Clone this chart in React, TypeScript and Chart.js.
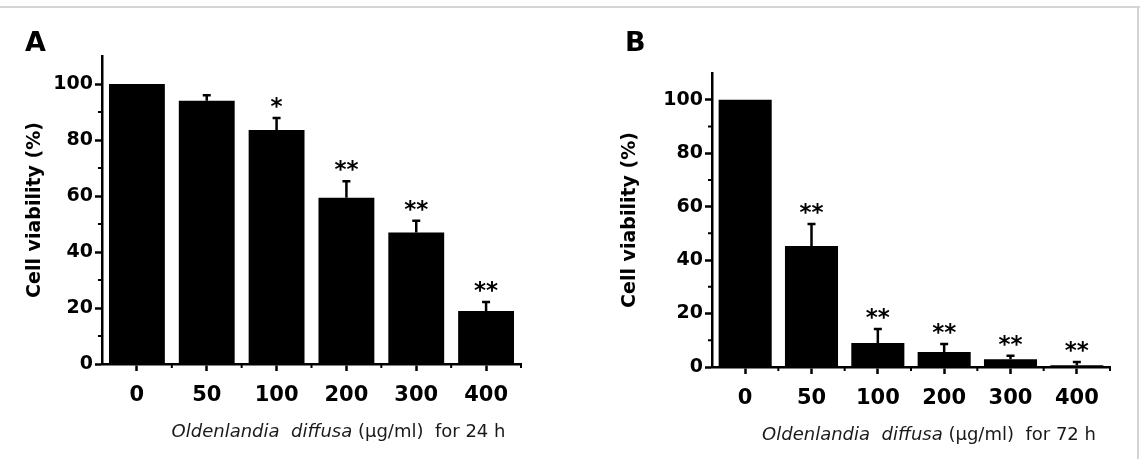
import React, { useEffect, useRef } from 'react';
import { Chart, registerables } from 'chart.js';

Chart.register(...registerables);

// ---------- data ----------
const categories = ['0', '50', '100', '200', '300', '400'];
const yTickValues = [0, 20, 40, 60, 80, 100];
const yMinorValues = [10, 30, 50, 70, 90];
const yMax = 110;

const viability24h = [100, 94, 83.6, 59.4, 47, 18.9];
const sem24h = [0, 2, 4.3, 5.9, 4.2, 3.2];
const stars24h = ['', '', '*', '**', '**', '**'];

const viability72h = [100, 45.3, 9, 5.6, 2.9, 0.7];
const sem72h = [0, 8.2, 5.2, 3.0, 1.3, 1.2];
const stars72h = ['', '**', '**', '**', '**', '**'];

const panelLabels = ['A', 'B'];
const xTitleItalicA = 'Oldenlandia';
const xTitleItalicB = 'diffusa';
const xTitleRest = [' (μg/ml)  for 24 h', ' (μg/ml)  for 72 h'];
const yTitle = 'Cell viability (%)';

const FONT = '"DejaVu Sans", "Liberation Sans", Arial, sans-serif';

const decorPlugin = {
  id: 'decor',
  afterDatasetsDraw(chart: any, _args: any, opts: any) {
    const { ctx, chartArea } = chart;
    const xs = chart.scales.x;
    const ys = chart.scales.y;
    const meta = chart.getDatasetMeta(0);
    const values = chart.data.datasets[0].data;
    ctx.save();
    ctx.strokeStyle = '#000';
    ctx.fillStyle = '#000';
    ctx.lineWidth = 2.5;
    meta.data.forEach((bar: any, i: number) => {
      const v = values[i];
      const e = opts.errors[i];
      const xc = bar.x;
      const yV = ys.getPixelForValue(v);
      const yE = ys.getPixelForValue(v + e);
      if (e > 0) {
        ctx.beginPath();
        ctx.moveTo(xc, yV);
        ctx.lineTo(xc, yE);
        ctx.moveTo(xc - 4, yE);
        ctx.lineTo(xc + 4, yE);
        ctx.stroke();
      }
      const s = opts.stars[i];
      if (s) {
        ctx.font = `bold 23px ${FONT}`;
        ctx.textAlign = 'center';
        ctx.textBaseline = 'alphabetic';
        ctx.fillText(s, xc, yE - 4);
      }
    });

    // minor ticks
    ctx.lineWidth = 2;
    ctx.beginPath();
    const left = chartArea.left;
    const bottom = chartArea.bottom;
    yMinorValues.forEach((v) => {
      const y = ys.getPixelForValue(v);
      ctx.moveTo(left, y);
      ctx.lineTo(left - 4, y);
    });
    const w = xs.getPixelForValue(1) - xs.getPixelForValue(0);
    const x0 = xs.getPixelForValue(0) - w / 2;
    for (let i = 1; i <= categories.length; i++) {
      const x = x0 + i * w;
      ctx.moveTo(x, bottom);
      ctx.lineTo(x, bottom + 4);
    }
    ctx.stroke();

    // x-axis title (mixed italic / upright)
    const parts = [
      { t: xTitleItalicA, it: true },
      { t: '  ', it: false },
      { t: xTitleItalicB, it: true },
      { t: opts.xRest, it: false },
    ];
    const size = 18;
    let total = 0;
    const widths = parts.map((p) => {
      ctx.font = `${p.it ? 'italic ' : ''}${size}px ${FONT}`;
      const m = ctx.measureText(p.t).width;
      total += m;
      return m;
    });
    let x = (chartArea.left + chartArea.right) / 2 + opts.xTitleShift - total / 2;
    const yT = bottom + opts.xTitleGap;
    ctx.fillStyle = '#1a1a1a';
    ctx.textAlign = 'left';
    ctx.textBaseline = 'middle';
    parts.forEach((p, i) => {
      ctx.font = `${p.it ? 'italic ' : ''}${size}px ${FONT}`;
      ctx.fillText(p.t, x, yT);
      x += widths[i];
    });

    // panel letter
    ctx.fillStyle = '#000';
    ctx.font = `bold 27px ${FONT}`;
    ctx.textBaseline = 'alphabetic';
    ctx.fillText(opts.label, opts.labelX, opts.labelY);
    ctx.restore();
  },
};

type PanelProps = {
  values: number[];
  errors: number[];
  stars: string[];
  xRest: string;
  label: string;
  left: number;
  padding: { left: number; right: number; top: number; bottom: number };
  yWidth: number;
  xHeight: number;
  xTitleShift: number;
  labelX: number;
};

function Panel(p: PanelProps) {
  const ref = useRef<HTMLCanvasElement>(null);
  useEffect(() => {
    const chart = new Chart(ref.current as HTMLCanvasElement, {
      type: 'bar',
      data: {
        labels: categories,
        datasets: [
          {
            data: p.values,
            backgroundColor: '#000',
            borderWidth: 0,
            barPercentage: 0.8,
            categoryPercentage: 1,
          },
        ],
      },
      options: {
        animation: false,
        responsive: false,
        devicePixelRatio: 1,
        layout: { padding: p.padding },
        plugins: {
          legend: { display: false },
          tooltip: { enabled: false },
          decor: {
            errors: p.errors,
            stars: p.stars,
            xRest: p.xRest,
            xTitleShift: p.xTitleShift,
            xTitleGap: 68,
            label: p.label,
            labelX: p.labelX,
            labelY: 51,
          },
        } as any,
        scales: {
          x: {
            grid: {
              offset: false,
              drawOnChartArea: false,
              drawTicks: true,
              tickLength: 7,
              tickWidth: 2.5,
              tickColor: '#000',
            },
            border: { display: true, color: '#000', width: 2.5 },
            ticks: {
              color: '#000',
              font: { family: FONT, size: 21, weight: 'bold' },
              padding: 12,
              maxRotation: 0,
              autoSkip: false,
            },
            afterFit: (s: any) => {
              s.height = p.xHeight;
            },
          },
          y: {
            min: 0,
            max: yMax,
            afterBuildTicks: (s: any) => {
              s.ticks = yTickValues.map((v) => ({ value: v }));
            },
            grid: {
              drawOnChartArea: false,
              drawTicks: true,
              tickLength: 7,
              tickWidth: 2.5,
              tickColor: '#000',
            },
            border: { display: true, color: '#000', width: 2.5 },
            ticks: {
              color: '#000',
              font: { family: FONT, size: 19, weight: 'bold' },
              padding: 2,
            },
            title: {
              display: true,
              text: yTitle,
              color: '#000',
              font: { family: FONT, size: 19, weight: 'bold' },
              padding: 0,
            },
            afterFit: (s: any) => {
              s.width = p.yWidth;
            },
          },
        } as any,
      },
      plugins: [decorPlugin as any],
    });
    return () => chart.destroy();
  }, []);
  return (
    <canvas
      ref={ref}
      width={570}
      height={459}
      style={{ position: 'absolute', left: p.left, top: 0, width: 570, height: 459 }}
    />
  );
}

export default function App() {
  return (
    <div
      style={{
        position: 'fixed',
        left: 0,
        top: 0,
        width: 1140,
        height: 459,
        background: '#fff',
        overflow: 'hidden',
      }}
    >
      <Panel
        values={viability24h}
        errors={sem24h}
        stars={stars24h}
        xRest={xTitleRest[0]}
        label={panelLabels[0]}
        left={0}
        padding={{ left: 24, right: 49, top: 56, bottom: 0 }}
        yWidth={78}
        xHeight={95}
        xTitleShift={27}
        labelX={25}
      />
      <Panel
        values={viability72h}
        errors={sem72h}
        stars={stars72h}
        xRest={xTitleRest[1]}
        label={panelLabels[1]}
        left={570}
        padding={{ left: 49, right: 30, top: 73, bottom: 0 }}
        yWidth={93}
        xHeight={92}
        xTitleShift={18}
        labelX={55}
      />
      <div style={{ position: 'absolute', left: 0, top: 6, width: 1140, height: 2, background: '#d4d4d4' }} />
      <div style={{ position: 'absolute', left: 1137, top: 6, width: 2, height: 453, background: '#d4d4d4' }} />
    </div>
  );
}
